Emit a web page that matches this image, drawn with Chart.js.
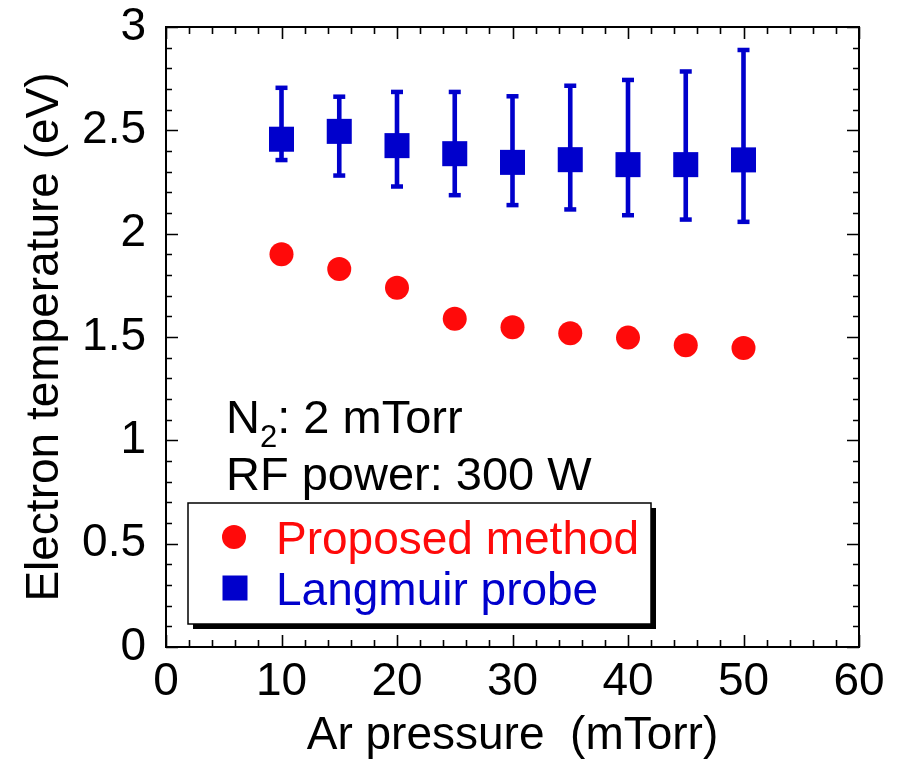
<!DOCTYPE html>
<html>
<head>
<meta charset="utf-8">
<script src="https://cdn.jsdelivr.net/npm/chart.js@4"></script>
<style>
  html, body { margin: 0; padding: 0; background: #fff; }
  #wrap { width: 901px; height: 764px; }
</style>
</head>
<body>
<div id="wrap"><canvas id="chart" width="901" height="764"></canvas></div>
<script>
// Ar pressure (mTorr)
const pressure = [10, 15, 20, 25, 30, 35, 40, 45, 50];
// electron temperature (eV), proposed method
const proposedTe = [1.900, 1.829, 1.738, 1.588, 1.547, 1.518, 1.497, 1.460, 1.447];
// electron temperature (eV), Langmuir probe, with error bar ends
const probeTe = [2.457, 2.495, 2.426, 2.387, 2.345, 2.358, 2.334, 2.334, 2.357];
const probeHigh = [2.707, 2.664, 2.687, 2.687, 2.666, 2.717, 2.745, 2.786, 2.890];
const probeLow = [2.355, 2.280, 2.227, 2.185, 2.137, 2.116, 2.088, 2.067, 2.056];

const seriesNames = ['Proposed method', 'Langmuir probe'];
const notes = ['N', '2', ': 2 mTorr', 'RF power: 300 W'];

const FONT = "'Liberation Sans', Arial, Helvetica, sans-serif";
const RED = '#ff0a0a';
const BLUE = '#0000cc';

function pts(ys) {
    return pressure.map((p, i) => ({ x: p, y: ys[i] }));
}

// error bars under the squares
const errorBars = {
    id: 'errorBars',
    beforeDatasetsDraw(chart) {
        const ctx = chart.ctx;
        const xs = chart.scales.x, ys = chart.scales.y;
        ctx.save();
        ctx.fillStyle = BLUE;
        pressure.forEach((p, i) => {
            const x = xs.getPixelForValue(p);
            const top = ys.getPixelForValue(probeHigh[i]);
            const bot = ys.getPixelForValue(probeLow[i]);
            ctx.fillRect(x - 2.3, top, 4.6, bot - top);
            ctx.fillRect(x - 6, top - 2, 12, 4.5);
            ctx.fillRect(x - 6, bot - 2.5, 12, 4.5);
        });
        ctx.restore();
    }
};

// box, inward ticks on all four sides, notes and legend
const frame = {
    id: 'frame',
    afterDraw(chart) {
        const ctx = chart.ctx;
        const a = chart.chartArea;
        const xs = chart.scales.x, ys = chart.scales.y;
        ctx.save();
        ctx.strokeStyle = '#000';
        ctx.lineWidth = 1.6;
        ctx.beginPath();
        for (let v = 0; v <= 60.001; v += 2) {
            const x = Math.round(xs.getPixelForValue(v)) + 0.5;
            const len = (Math.round(v) % 10 === 0) ? 12 : 7;
            ctx.moveTo(x, a.bottom); ctx.lineTo(x, a.bottom - len);
            ctx.moveTo(x, a.top); ctx.lineTo(x, a.top + len);
        }
        for (let k = 0; k <= 30; k++) {
            const y = Math.round(ys.getPixelForValue(k / 10)) + 0.5;
            const len = (k % 5 === 0) ? 12 : 6;
            ctx.moveTo(a.left, y); ctx.lineTo(a.left + len, y);
            ctx.moveTo(a.right, y); ctx.lineTo(a.right - len, y);
        }
        ctx.stroke();
        ctx.lineWidth = 2;
        ctx.strokeRect(a.left, a.top, a.right - a.left, a.bottom - a.top);

        // notes
        ctx.fillStyle = '#000';
        ctx.textBaseline = 'alphabetic';
        ctx.textAlign = 'left';
        ctx.font = '47px ' + FONT;
        let x0 = 226;
        ctx.fillText(notes[0], x0, 433);
        let w = ctx.measureText(notes[0]).width;
        ctx.font = '31px ' + FONT;
        ctx.fillText(notes[1], x0 + w, 447);
        w += ctx.measureText(notes[1]).width;
        ctx.font = '47px ' + FONT;
        ctx.fillText(notes[2], x0 + w, 433);
        ctx.fillText(notes[3], x0, 490);

        // legend box with shadow
        const bx = 188, by = 503, bw = 463, bh = 121;
        ctx.fillStyle = '#000';
        ctx.fillRect(bx + 5, by + 5, bw, bh);
        ctx.fillStyle = '#fff';
        ctx.fillRect(bx, by, bw, bh);
        ctx.lineWidth = 1.5;
        ctx.strokeStyle = '#000';
        ctx.strokeRect(bx, by, bw, bh);

        const ds = chart.data.datasets;
        ctx.font = '46px ' + FONT;
        // row 1: circle
        ctx.fillStyle = ds[0].backgroundColor;
        ctx.beginPath();
        ctx.arc(234, 537, 12, 0, Math.PI * 2);
        ctx.fill();
        ctx.fillText(ds[0].label, 276, 554);
        // row 2: square
        ctx.fillStyle = ds[1].backgroundColor;
        ctx.fillRect(222.5, 575.5, 25, 25);
        ctx.fillText(ds[1].label, 276, 605);
        ctx.restore();
    }
};

const ctx = document.getElementById('chart').getContext('2d');
new Chart(ctx, {
    type: 'scatter',
    data: {
        datasets: [
            {
                label: seriesNames[0],
                data: pts(proposedTe),
                backgroundColor: RED,
                borderColor: RED,
                pointStyle: 'circle',
                pointRadius: 12,
                borderWidth: 0
            },
            {
                label: seriesNames[1],
                data: pts(probeTe),
                backgroundColor: BLUE,
                borderColor: BLUE,
                pointStyle: 'rect',
                pointRadius: 17.7,
                borderWidth: 0
            }
        ]
    },
    options: {
        responsive: false,
        animation: false,
        events: [],
        layout: { padding: { top: 27, right: 42, left: 0, bottom: 0 } },
        plugins: {
            legend: { display: false },
            tooltip: { enabled: false }
        },
        scales: {
            x: {
                type: 'linear',
                min: 0, max: 60,
                grid: { display: false, drawTicks: false },
                border: { display: false },
                ticks: {
                    stepSize: 10,
                    color: '#000',
                    padding: 8,
                    maxRotation: 0,
                    font: { family: FONT, size: 46 }
                },
                title: {
                    display: true,
                    text: 'Ar pressure  (mTorr)',
                    color: '#000',
                    font: { family: FONT, size: 46 },
                    padding: { top: 9, bottom: 0 }
                },
                afterFit(s) {
                    s.height = 764 - 647;
                    s.paddingLeft = 0;
                    s.paddingRight = 0;
                }
            },
            y: {
                type: 'linear',
                min: 0, max: 3,
                grid: { display: false, drawTicks: false },
                border: { display: false },
                ticks: {
                    stepSize: 0.5,
                    color: '#000',
                    padding: 20,
                    font: { family: FONT, size: 46 },
                    callback: v => String(v)
                },
                title: {
                    display: true,
                    text: 'Electron temperature (eV)',
                    color: '#000',
                    font: { family: FONT, size: 46 },
                    padding: { top: 18, bottom: 0 }
                },
                afterFit(s) {
                    s.width = 166;
                    s.paddingTop = 0;
                    s.paddingBottom = 0;
                }
            }
        }
    },
    plugins: [errorBars, frame]
});
</script>
</body>
</html>
